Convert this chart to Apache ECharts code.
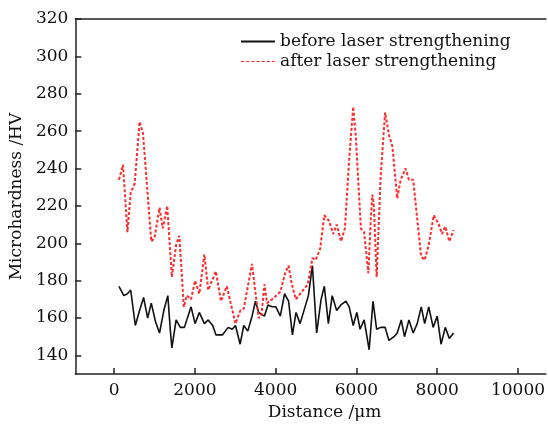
<!DOCTYPE html>
<html>
<head>
<meta charset="utf-8">
<script src="https://cdn.jsdelivr.net/npm/echarts@6/dist/echarts.min.js"></script>
<style>html,body{margin:0;padding:0;background:#fff;}#c{width:548px;height:426px;}</style>
</head>
<body>
<div id="c"></div>
<script>
// Distance (μm) and microhardness (HV)
var beforeX = [120,240,330,410,525,630,730,830,920,1025,1125,1230,1330,1390,1430,1535,1640,1740,1905,2005,2110,2235,2330,2440,2520,2685,2825,2925,3005,3120,3210,3310,3415,3500,3580,3720,3810,3910,4005,4115,4220,4320,4415,4505,4605,4810,4910,5015,5125,5205,5305,5400,5510,5615,5740,5820,5920,6010,6090,6190,6230,6315,6410,6500,6600,6710,6805,6930,7010,7110,7190,7300,7405,7505,7605,7690,7790,7900,8000,8095,8200,8300,8405];
var beforeY = [177,172,173,175,156,164,171,160,168,158,152,164,172,154,144,159,155,155,166,157,163,157,159,156,151,151,155,154,156,146,156,153,161,169,163,161,167,166,166,161,173,169,151,163,157,172,188,152,170,177,157,172,164,167,169,166,156,163,154,159,154,143,169,154,155,155,148,150,152,159,150,159,152,157,166,157,166,155,161,146,155,149,152];
var afterX = [120,220,330,410,510,630,715,920,1000,1125,1205,1315,1430,1535,1615,1725,1800,1905,2005,2110,2235,2330,2520,2645,2790,3005,3125,3210,3415,3480,3580,3645,3725,3785,3910,4115,4235,4320,4400,4500,4645,4795,4910,4990,5100,5205,5320,5425,5510,5620,5715,5820,5920,5985,6110,6190,6295,6355,6395,6435,6500,6600,6710,6805,6890,7010,7095,7215,7300,7405,7520,7600,7685,7790,7915,8040,8120,8200,8300,8405];
var afterY = [234,242,206,227,232,265,259,201,203,219,208,220,182,199,204,166,172,170,180,173,194,175,185,169,177,157,164,165,189,177,160,161,178,168,170,174,184,188,178,170,174,178,192,191,197,215,212,205,210,201,208,245,273,257,208,206,184,213,226,219,182,236,270,258,252,224,234,240,234,234,210,193,191,199,215,210,205,209,201,207];
var xTicks = [0,2000,4000,6000,8000,10000];
var yTicks = [140,160,180,200,220,240,260,280,300,320];
var seriesNames = ['before laser strengthening','after laser strengthening'];

function pairs(xs, ys){ return xs.map(function(x,i){ return [x, ys[i]]; }); }
function plain(v){ return String(v); }

var FONT = 'DejaVu Serif';
var AX = '#222';
var dashIcon = 'path://M0,0h3v1h-3z M5,0h3v1h-3z M10,0h3v1h-3z M15,0h3v1h-3z M20,0h3v1h-3z M25,0h3v1h-3z M30,0h3v1h-3z';
var chart = echarts.init(document.getElementById('c'));
chart.setOption({
  animation: false,
  backgroundColor: '#fff',
  textStyle: {fontFamily: FONT},
  grid: {left: 75, top: 19, width: 473, height: 361},
  legend: {
    orient: 'vertical', left: 236, top: 28, itemWidth: 34, itemHeight: 2, itemGap: 3,
    textStyle: {fontFamily: FONT, fontSize: 17, color: '#111'},
    data: [
      {name: seriesNames[0], icon: 'rect'},
      {name: seriesNames[1], icon: dashIcon}
    ]
  },
  xAxis: [{
    type: 'value', min: -960, max: 10690,
    name: 'Distance /μm', nameLocation: 'middle', nameGap: 27,
    nameTextStyle: {fontFamily: FONT, fontSize: 17, color: '#111', padding: [0,0,0,28]},
    axisLine: {show: true, onZero: false, lineStyle: {color: AX, width: 1.5}},
    axisTick: {show: true, inside: true, length: 6, customValues: xTicks, lineStyle: {color: AX, width: 1.5}},
    axisLabel: {customValues: xTicks, formatter: plain, fontFamily: FONT, fontSize: 17, color: '#111', margin: 8},
    splitLine: {show: false}
  }, {
    type: 'value', position: 'top', min: -960, max: 10690,
    axisLine: {show: true, onZero: false, lineStyle: {color: AX, width: 1.5}},
    axisTick: {show: false}, axisLabel: {show: false}, splitLine: {show: false}
  }],
  yAxis: {
    type: 'value', min: 130, max: 320,
    name: 'Microhardness /HV', nameLocation: 'middle', nameGap: 40,
    nameTextStyle: {fontFamily: FONT, fontSize: 17, color: '#111'},
    axisLine: {show: true, onZero: false, lineStyle: {color: AX, width: 1.5}},
    axisTick: {show: true, inside: true, length: 6, customValues: yTicks, lineStyle: {color: AX, width: 1.5}},
    axisLabel: {customValues: yTicks, formatter: plain, fontFamily: FONT, fontSize: 17, color: '#111', margin: 7},
    splitLine: {show: false}
  },
  series: [
    {name: seriesNames[0], type: 'line', data: pairs(beforeX, beforeY), symbol: 'none',
     lineStyle: {color: '#111', width: 1.6}, itemStyle: {color: '#111'}},
    {name: seriesNames[1], type: 'line', data: pairs(afterX, afterY), symbol: 'none',
     lineStyle: {color: '#ff2a2a', width: 2, type: [3,2]}, itemStyle: {color: '#ff2a2a'}}
  ]
});
</script>
</body>
</html>
